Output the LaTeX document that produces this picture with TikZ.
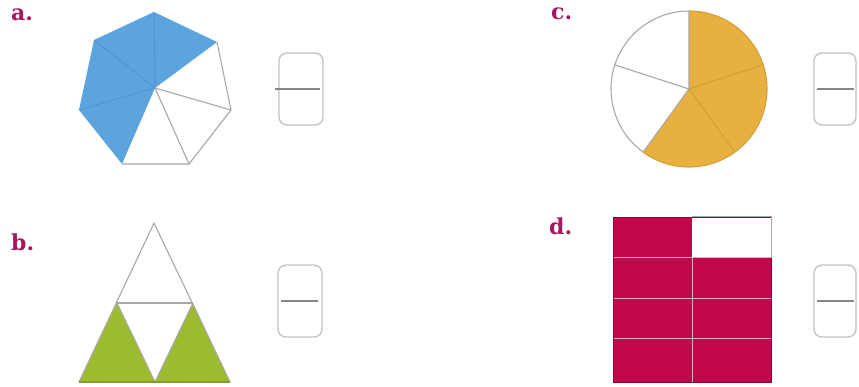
\documentclass[tikz,border=0pt]{standalone}
\usepackage{fontspec}
\newfontfamily\lblfont{DejaVu Serif}
\definecolor{lblc}{HTML}{A8185E}
\definecolor{blu}{HTML}{5CA4DD}
\definecolor{bluline}{HTML}{4F94CC}
\definecolor{org}{HTML}{E8B13F}
\definecolor{orgline}{HTML}{D49E33}
\definecolor{grn}{HTML}{9DBB2E}
\definecolor{crim}{HTML}{C1064C}
\definecolor{edge}{HTML}{A8A8A8}
\definecolor{boxc}{HTML}{C4C4C4}
\begin{document}
\begin{tikzpicture}[x=1pt,y=-1pt,
  lbl/.style={anchor=north west,inner sep=0pt,text=lblc,font=\lblfont\bfseries\fontsize{22}{22}\selectfont},
  fracbox/.style={draw=boxc,line width=1.4pt,rounded corners=8pt,minimum width=#1,minimum height=72pt,inner sep=0pt},
  fracbox/.default=44pt,
  fracline/.style={draw=edge!80!black,line width=1.3pt},
  outl/.style={draw=edge,line width=1.1pt,line join=round}]
\useasboundingbox (0,0) rectangle (859,387);
\fill[white] (0,0) rectangle (859,387);

% ---------- a. heptagon ----------
\node[lbl] (la) at (11,9) {a.};
\coordinate (hc) at (155,88);
\coordinate (h1) at (154,12);
\coordinate (h2) at (217,42);
\coordinate (h3) at (231,110);
\coordinate (h4) at (189,164);
\coordinate (h5) at (122,164);
\coordinate (h6) at (79,110);
\coordinate (h7) at (94,40);
\fill[blu] (hc) -- (h2) -- (h1) -- (h7) -- (h6) -- (h5) -- cycle;
\draw[bluline,line width=0.8pt] (hc) -- (h1) (hc) -- (h7) (hc) -- (h6);
\draw[outl] (h2) -- (h3) -- (h4) -- (h5);
\draw[outl] (hc) -- (h3) (hc) -- (h4);
\node[fracbox] (fa) at (301,89) {};
\draw[fracline] ([xshift=-3pt]fa.west) -- ([xshift=-4pt]fa.east);

% ---------- b. triangle ----------
\node[lbl] (lb) at (11,234) {b.};
\coordinate (t1) at (154,223);
\coordinate (tl) at (79,382);
\coordinate (tr) at (230,382);
\coordinate (tm) at (155,382);
\coordinate (ml) at (117,303);
\coordinate (mr) at (193,303);
\fill[grn] (tl) -- (ml) -- (tm) -- cycle;
\fill[grn] (tm) -- (mr) -- (tr) -- cycle;
\draw[outl] (tl) -- (t1) -- (tr);
\draw[outl] (ml) -- (mr);
\draw[outl] (ml) -- (tm) -- (mr);
\draw[grn!85!black,line width=1.1pt] (tl) -- (tr);
\node[fracbox] (fb) at (300,301) {};
\draw[fracline] ([xshift=4pt]fb.west) -- ([xshift=-5pt]fb.east);

% ---------- c. circle ----------
\node[lbl] (lc) at (551,8) {c.};
\coordinate (cc) at (689,89);
\begin{scope}[shift={(cc)},yscale=-1]
  \fill[org] (0,0) -- (90:78) arc[start angle=90,end angle=-126,radius=78] -- cycle;
  \draw[orgline,line width=1.1pt] (0,0) -- (18:78) (0,0) -- (-54:78);
  \draw[edge,line width=1.1pt] (0,0) -- (162:78) (0,0) -- (-126:78) (0,0) -- (90:78);
  \draw[edge,line width=1.1pt] (-126:78) arc[start angle=-126,end angle=-270,radius=78];
  \draw[orgline,line width=1.1pt] (90:78) arc[start angle=90,end angle=-126,radius=78];
\end{scope}
\node[fracbox=42pt] (fc) at (835,89) {};
\draw[fracline] ([xshift=4pt]fc.west) -- ([xshift=-3pt]fc.east);

% ---------- d. grid ----------
\node[lbl] (ld) at (549,218) {d.};
\fill[crim] (613,217) rectangle (771,382);
\fill[white] (692,217) rectangle (771,258);
\draw[crim!35!white,line width=1pt] (613,258) -- (771,258) (613,298) -- (771,298) (613,338) -- (771,338) (692,258) -- (692,382);
\draw[crim!70!black,line width=0.8pt] (613,217) rectangle (771,382);
\draw[edge,line width=1pt] (692,217) -- (771,217) -- (771,258);
\node[fracbox=42pt] (fd) at (835,301) {};
\draw[fracline] ([xshift=4pt]fd.west) -- ([xshift=-3pt]fd.east);
\end{tikzpicture}
\end{document}
